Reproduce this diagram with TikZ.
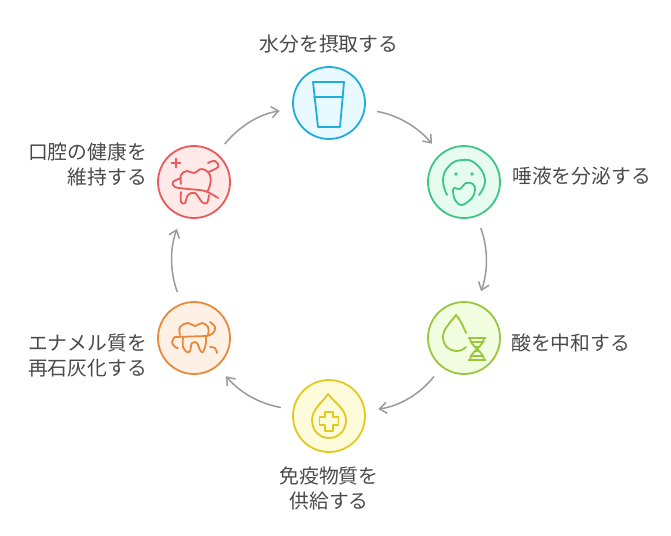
\documentclass[tikz,border=0pt]{standalone}
\usepackage{fontspec}
\setmainfont{Noto Sans CJK JP}
\usetikzlibrary{arrows.meta, positioning}

\definecolor{inkgray}{HTML}{4A4A4A}
\definecolor{arrowgray}{HTML}{9A9A9A}
\definecolor{waterline}{HTML}{1FADDB}
\definecolor{waterfill}{HTML}{E8F9FF}
\definecolor{salivaline}{HTML}{3CC583}
\definecolor{salivafill}{HTML}{E6FCF0}
\definecolor{acidline}{HTML}{98C63C}
\definecolor{acidfill}{HTML}{F3FDE0}
\definecolor{immuneline}{HTML}{E3C81E}
\definecolor{immunefill}{HTML}{FEFBDB}
\definecolor{enamelline}{HTML}{E8893A}
\definecolor{enamelfill}{HTML}{FFF0E6}
\definecolor{healthline}{HTML}{EA5A5A}
\definecolor{healthfill}{HTML}{FFE9E9}

\tikzset{
    bubble/.style 2 args = {circle, draw = #1, fill = #2, line width = 1.8pt, minimum size = 72pt, inner sep = 0pt},
    label text/.style = {font = \fontsize{19.8}{25}\selectfont, text = inkgray, inner sep = 0pt},
    flow/.style = {-{Straight Barb[length = 7pt, width = 11pt]}, draw = arrowgray, line width = 1.5pt, shorten < = 12pt, shorten > = 13pt},
    icon/.style = {line width = 1.8pt, line cap = round, line join = round}
}

\begin{document}
\begin{tikzpicture} [x = 1pt, y = -1pt]
\useasboundingbox (0,0) rectangle (671,535);

\node (water) [bubble = {waterline}{waterfill}] at (329,103) {};
\node (saliva) [bubble = {salivaline}{salivafill}] at (464,182) {};
\node (acid) [bubble = {acidline}{acidfill}] at (464,338) {};
\node (immune) [bubble = {immuneline}{immunefill}] at (329,416) {};
\node (enamel) [bubble = {enamelline}{enamelfill}] at (194,338) {};
\node (health) [bubble = {healthline}{healthfill}] at (194,182) {};

\node (waterlabel) [label text] at (329,44) {水分を摂取する};
\node (salivalabel) [label text, anchor = west] at (512,176) {唾液を分泌する};
\node (acidlabel) [label text, anchor = west] at (511,343) {酸を中和する};
\node (immunelabel) [label text, align = center] at (329,488) {免疫物質を\\供給する};
\node (enamellabel) [label text, align = right, anchor = east] at (147,356) {エナメル質を\\再石灰化する};
\node (healthlabel) [label text, align = right, anchor = east] at (147,164) {口腔の健康を\\維持する};

\path [flow] (water) edge [out = -10, in = 130] (saliva);
\path [flow] (saliva) edge [bend left = 20] (acid);
\path [flow] (acid) edge [out = 232, in = 8] (immune);
\path [flow] (immune) edge [out = 170, in = -50] (enamel);
\path [flow] (enamel) edge [bend left = 20] (health);
\path [flow] (health) edge [out = 51, in = 189] (water);

% glass
\begin{scope} [shift = {(water)}, icon, draw = waterline]
\draw (-16,-21) -- (15,-21) -- (11,24) -- (-11,24) -- cycle;
\draw (-15,-6) -- (14,-6);
\end{scope}

% face with hand
\begin{scope} [shift = {(saliva)}, icon, draw = salivaline]
\draw plot [smooth, tension = 0.8] coordinates {(-17,13) (-21,-2) (-15,-16) (-2,-22) (12,-18) (21,-2) (15,13)};
\draw plot [smooth cycle, tension = 0.6] coordinates {(-4,7) (2,1) (9,2) (11,8) (8,16) (-2,23) (-9,18) (-11,8) (-9,6)};
\fill [salivaline] (-8,-8) circle (1.8pt) (8,-8) circle (1.8pt);
\end{scope}

% drop and helix
\begin{scope} [shift = {(acid)}, icon, draw = acidline]
\draw (2,-5) .. controls (-1,-12) and (-4,-19) .. (-8,-23) .. controls (-14,-15) and (-21,-9) .. (-21,-1) .. controls (-21,8) and (-14,13) .. (-8,13) .. controls (-3,13) and (0,11) .. (2,9);
\draw (4.5,0) -- (21.5,0) (4.5,22) -- (21.5,22);
\draw (6,0) .. controls (6,8) and (20,14) .. (20,22);
\draw (20,0) .. controls (20,8) and (6,14) .. (6,22);
\draw (6.5,4) -- (19.5,4) (6.5,18) -- (19.5,18) (10,8.5) -- (16,8.5) (10,13.5) -- (16,13.5);
\end{scope}

% drop with cross
\begin{scope} [shift = {(immune)}, icon, draw = immuneline]
\draw (-1,-22) .. controls (-6,-14) and (-17,-7) .. (-17,4) .. controls (-17,15) and (-9,22) .. (0,22) .. controls (9,22) and (17,15) .. (17,4) .. controls (17,-7) and (5,-14) .. (-1,-22) -- cycle;
\draw (-4,-4) -- (4,-4) -- (4,1) -- (9.5,1) -- (9.5,9) -- (4,9) -- (4,15) -- (-4,15) -- (-4,9) -- (-9.5,9) -- (-9.5,1) -- (-4,1) -- cycle;
\end{scope}

% tooth and floss, orange
\begin{scope} [shift = {(enamel)}, icon, draw = enamelline]
\draw plot [smooth, tension = 0.7] coordinates {(-14,-3) (-14,-11) (-6,-15) (1,-12) (8,-15) (14,-11) (14,-3)};
\draw plot [smooth, tension = 0.6] coordinates {(-11,-1) (-11,9) (-7,14) (-4,13) (-2,5) (3,5) (6,12) (9,14) (12,5) (12,-1)};
\draw plot [smooth, tension = 0.7] coordinates {(16,-16) (21,-11) (19,-5) (13,-2)};
\draw (13,-2) -- (-19,-1);
\draw plot [smooth, tension = 0.8] coordinates {(-19,-1) (-22,4) (-19,9) (-16,10)};
\draw plot [smooth, tension = 0.7] coordinates {(16,9) (21,10) (23,15)};
\end{scope}

% tooth and floss, red
\begin{scope} [shift = {(health)}, icon, draw = healthline]
\draw (-22.5,-19) -- (-13.5,-19) (-18,-23.5) -- (-18,-14.5);
\draw plot [smooth, tension = 0.7] coordinates {(-13,2) (-13,-7) (-7,-11) (0,-9) (8,-13) (16,-7) (16,3) (13,10)};
\draw plot [smooth, tension = 0.7] coordinates {(14,-19) (21,-21) (24,-15) (14,-10)};
\draw plot [smooth, tension = 0.6] coordinates {(-13,-4) (-21,0) (-19,5) (-6,7) (11,9) (24,16)};
\draw plot [smooth, tension = 0.6] coordinates {(-13,10) (-13,20) (-9,21) (-6,13) (1,11) (8,20) (13,21) (15,13)};
\end{scope}
\end{tikzpicture}
\end{document}
